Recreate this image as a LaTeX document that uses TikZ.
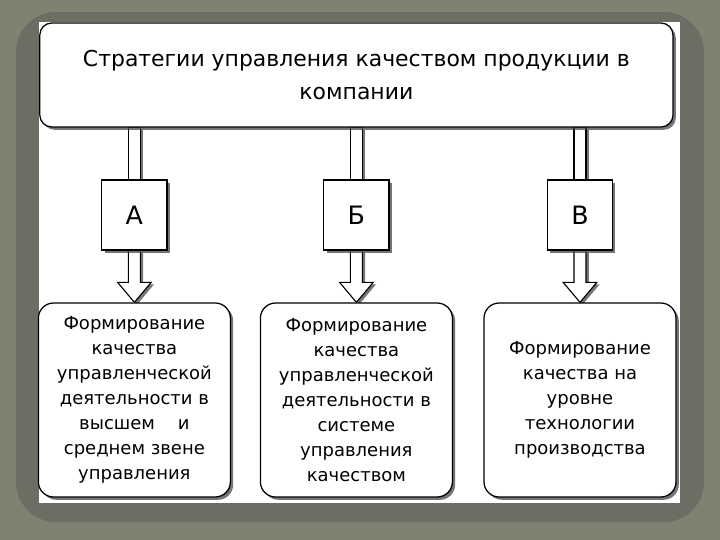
\documentclass[tikz,border=0pt]{standalone}
\usepackage{fontspec}
\setmainfont{DejaVu Sans}
\usepackage{xcolor}
\definecolor{slate}{RGB}{128,129,113}
\definecolor{band}{RGB}{108,109,99}
\definecolor{shade}{RGB}{72,72,72}
\usetikzlibrary{calc, shadows, backgrounds}

\begin{document}
\begin{tikzpicture}[
        box/.style={rectangle, draw=black, line width=0.9pt, fill=white, drop shadow={shadow xshift=0.07cm, shadow yshift=-0.07cm, fill=shade, opacity=0.75}},
        headbox/.style={box, rounded corners=0.3cm, minimum width=15.83cm, minimum height=2.6cm, align=center, font=\fontsize{15.6}{24}\selectfont},
        letterbox/.style={box, minimum width=1.63cm, minimum height=1.75cm, font=\fontsize{18}{20}\selectfont},
        formbox/.style={box, rounded corners=0.38cm, minimum width=4.8cm, minimum height=4.85cm, align=center, font=\fontsize{12.8}{17.8}\selectfont},
        hollow/.style={draw=black, line width=0.8pt, fill=white, drop shadow={shadow xshift=0.07cm, shadow yshift=-0.05cm, fill=shade, opacity=0.75}}
    ]
        % Strategy
        \node[headbox] (strategy) at (8.91, -1.875) {Стратегии управления качеством продукции в\\компании};

        % Variants
        \node[letterbox] (varA) at (3.36, -5.375) {А};
        \node[letterbox] (varB) at (8.91, -5.375) {Б};
        \node[letterbox] (varV) at (14.5, -5.375) {В};

        % Forms of quality
        \node[formbox] (formA) at (3.36, -10.0) {Формирование\\качества\\управленческой\\деятельности в\\высшем \ \ \ и\\среднем звене\\управления};
        \node[formbox] (formB) at (8.91, -10.0) {Формирование\\качества\\управленческой\\деятельности в\\системе\\управления\\качеством};
        \node[formbox] (formV) at (14.5, -10.0) {Формирование\\качества на\\уровне\\технологии\\производства};

        \begin{scope}[on background layer]
            % Slide frame
            \fill[slate] (0, 0) rectangle (18, -13.5);
            \fill[band, rounded corners=1cm] (0.4, -0.3) rectangle (17.6, -13.05);
            \fill[white] (0.98, -0.55) rectangle (17.0, -12.58);

            % Stems
            \filldraw[hollow] ($(strategy.south -| varA.north)+(-0.15,0)$) rectangle ($(varA.north)+(0.15,0)$);
            \filldraw[hollow] ($(strategy.south -| varB.north)+(-0.15,0)$) rectangle ($(varB.north)+(0.15,0)$);
            \filldraw[hollow] ($(strategy.south -| varV.north)+(-0.15,0)$) rectangle ($(varV.north)+(0.15,0)$);

            % Arrows
            \filldraw[hollow] ($(varA.south)+(-0.15,0)$) -- ($(formA.north)+(-0.15,0.5)$) -- ($(formA.north)+(-0.42,0.5)$) -- (formA.north) -- ($(formA.north)+(0.42,0.5)$) -- ($(formA.north)+(0.15,0.5)$) -- ($(varA.south)+(0.15,0)$);
            \filldraw[hollow] ($(varB.south)+(-0.15,0)$) -- ($(formB.north)+(-0.15,0.5)$) -- ($(formB.north)+(-0.42,0.5)$) -- (formB.north) -- ($(formB.north)+(0.42,0.5)$) -- ($(formB.north)+(0.15,0.5)$) -- ($(varB.south)+(0.15,0)$);
            \filldraw[hollow] ($(varV.south)+(-0.15,0)$) -- ($(formV.north)+(-0.15,0.5)$) -- ($(formV.north)+(-0.42,0.5)$) -- (formV.north) -- ($(formV.north)+(0.42,0.5)$) -- ($(formV.north)+(0.15,0.5)$) -- ($(varV.south)+(0.15,0)$);
        \end{scope}
\end{tikzpicture}
\end{document}
